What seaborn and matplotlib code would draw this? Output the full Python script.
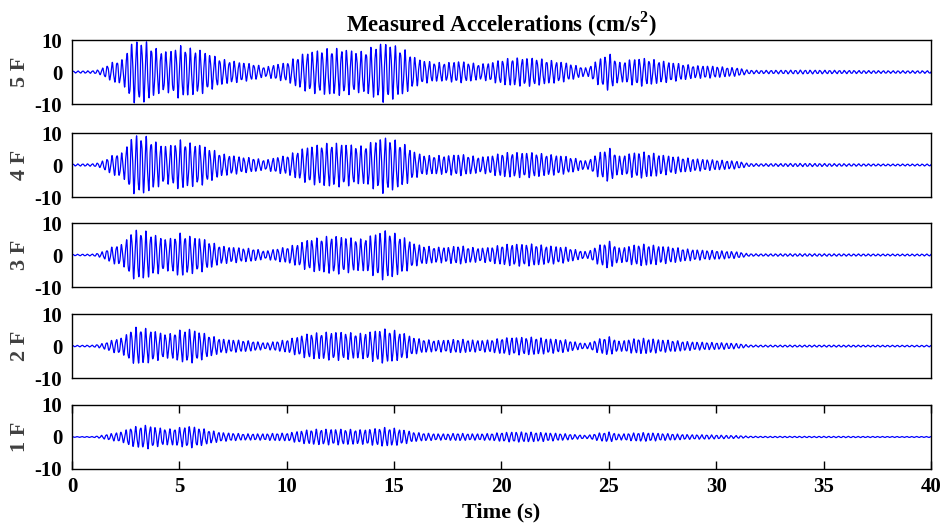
import numpy as np
import pandas as pd
import matplotlib
matplotlib.use("Agg")
import matplotlib.pyplot as plt
import seaborn as sns

# Envelope knots (s) and peak amplitudes (cm/s^2)
knots = [0, 1, 1.3, 1.6, 2, 2.4, 2.7, 3, 3.5, 4, 4.5, 5, 5.5, 6, 6.5, 7, 7.5, 8, 8.5, 9,
         9.5, 10, 10.5, 11, 11.5, 12, 12.5, 13, 13.5, 14, 14.5, 15, 15.5, 16, 16.5, 17,
         17.5, 18, 18.5, 19, 19.5, 20, 20.5, 21, 21.5, 22, 22.5, 23, 23.5, 24, 24.5, 25,
         25.5, 26, 26.5, 27, 27.5, 28, 28.5, 29, 29.5, 30, 30.5, 31, 31.5, 32, 34, 36, 38, 40]

env_5F = [0.3, 0.4, 0.8, 2.0, 3.5, 4.0, 9.0, 10.0, 9.5, 7.0, 6.5, 8.5, 7.5, 7.0, 5.5, 4.0,
          3.5, 3.0, 2.5, 1.5, 2.5, 3.0, 5.0, 6.5, 7.0, 7.5, 7.5, 7.0, 6.5, 8.0, 9.5, 8.5,
          7.0, 4.5, 3.5, 3.0, 3.0, 3.5, 3.0, 2.5, 3.0, 4.0, 4.5, 4.5, 4.5, 4.0, 3.5, 3.0,
          2.0, 1.2, 4.0, 6.0, 3.0, 4.0, 4.5, 4.0, 3.5, 3.0, 2.5, 2.0, 2.0, 1.8, 1.5, 1.3,
          0.6, 0.5, 0.6, 0.5, 0.4, 0.4]
env_4F = [0.3, 0.4, 0.8, 2.0, 3.5, 4.0, 8.5, 9.5, 9.0, 7.0, 6.0, 8.0, 7.0, 6.5, 5.0, 3.5,
          3.0, 2.5, 2.2, 1.5, 2.5, 3.0, 4.5, 6.0, 6.5, 7.0, 7.0, 6.5, 6.0, 7.5, 9.0, 8.0,
          6.5, 4.0, 3.0, 3.0, 3.0, 3.5, 3.0, 2.5, 3.0, 3.8, 4.0, 4.0, 4.0, 3.5, 3.2, 2.8,
          2.0, 1.2, 3.8, 5.5, 2.8, 3.8, 4.2, 3.8, 3.2, 2.8, 2.3, 2.0, 1.8, 1.6, 1.4, 1.2,
          0.5, 0.4, 0.5, 0.4, 0.3, 0.3]
env_3F = [0.2, 0.3, 0.7, 1.6, 3.0, 3.5, 7.0, 8.0, 7.5, 6.0, 5.0, 7.0, 6.0, 5.5, 4.0, 2.8,
          2.5, 2.2, 2.0, 1.2, 2.0, 2.5, 3.5, 5.0, 5.5, 6.0, 6.0, 5.5, 5.0, 6.5, 8.0, 7.0,
          5.5, 3.5, 2.8, 2.5, 2.5, 3.0, 2.5, 2.2, 2.5, 3.2, 3.5, 3.5, 3.5, 3.0, 2.8, 2.5,
          1.6, 1.0, 3.0, 4.5, 2.2, 3.0, 3.5, 3.2, 2.8, 2.5, 2.0, 1.7, 1.5, 1.4, 1.2, 1.0,
          0.4, 0.35, 0.4, 0.35, 0.3, 0.3]
env_2F = [0.2, 0.3, 0.6, 1.2, 2.2, 2.8, 5.0, 6.0, 5.5, 4.5, 3.8, 5.0, 5.5, 4.5, 3.2, 2.2,
          2.0, 1.8, 1.5, 1.0, 1.5, 2.0, 3.0, 4.0, 4.2, 4.5, 4.5, 4.2, 4.0, 4.8, 5.5, 5.0,
          4.0, 2.5, 2.0, 1.8, 2.0, 2.2, 2.0, 1.8, 2.0, 2.5, 2.8, 2.8, 2.8, 2.5, 2.2, 2.0,
          1.2, 0.8, 2.2, 3.0, 1.5, 2.2, 2.5, 2.3, 2.0, 1.8, 1.5, 1.3, 1.2, 1.1, 1.0, 0.8,
          0.35, 0.3, 0.3, 0.3, 0.25, 0.25]
env_1F = [0.1, 0.15, 0.4, 0.8, 1.3, 1.8, 3.0, 3.3, 3.8, 3.0, 2.5, 3.0, 3.5, 2.8, 2.0, 1.4,
          1.2, 1.0, 1.0, 1.0, 1.2, 1.2, 1.8, 2.3, 2.5, 2.5, 2.5, 2.4, 2.3, 2.6, 3.0, 2.8,
          2.2, 1.4, 1.2, 1.0, 1.0, 1.2, 1.0, 1.0, 1.1, 1.4, 1.6, 1.6, 1.5, 1.4, 1.2, 1.0,
          0.7, 0.5, 1.2, 1.6, 0.9, 1.2, 1.4, 1.3, 1.1, 1.0, 0.8, 0.7, 0.7, 0.6, 0.5, 0.45,
          0.25, 0.2, 0.2, 0.2, 0.15, 0.15]

floors = ["5 F", "4 F", "3 F", "2 F", "1 F"]
envelopes = [env_5F, env_4F, env_3F, env_2F, env_1F]
carrier_hz = 4.4          # dominant response frequency read from the peak spacing
y_ticks = [-10, 0, 10]
x_ticks = [0, 5, 10, 15, 20, 25, 30, 35, 40]

t = np.arange(0, 40.0001, 0.01)

plt.rcParams['font.family'] = ['Liberation Serif', 'DejaVu Serif']
plt.rcParams['mathtext.fontset'] = 'custom'
plt.rcParams['mathtext.rm'] = 'Liberation Serif:bold'
plt.rcParams['mathtext.bf'] = 'Liberation Serif:bold'
fig = plt.figure(figsize=(9.46, 5.31), dpi=100)

left, width, height = 0.0761, 0.908, 0.1205
bottoms = [0.8041, 0.629, 0.4595, 0.288, 0.1168]

for i, (name, env) in enumerate(zip(floors, envelopes)):
    ax = fig.add_axes([left, bottoms[i], width, height])
    amp = np.interp(t, knots, env)
    sig = amp * (0.88 * np.sin(2 * np.pi * carrier_hz * t + 0.3 * i)
                 + 0.12 * np.sin(2 * np.pi * 11.3 * t + 1.1 * i))
    df = pd.DataFrame({"t": t, "a": sig})
    sns.lineplot(data=df, x="t", y="a", ax=ax, color="#0000ff", lw=0.9)
    ax.set_xlim(0, 40)
    ax.set_ylim(-10, 10)
    ax.set_yticks(y_ticks)
    ax.set_yticklabels([str(v) for v in y_ticks], fontsize=15, fontweight='bold')
    ax.tick_params(axis='y', length=0, pad=7)
    ax.set_ylabel(name, fontsize=16, fontweight='bold', color='#404040', labelpad=3)
    ax.set_xlabel("")
    for s in ax.spines.values():
        s.set_linewidth(1.0)
        s.set_color('black')
    if i < len(floors) - 1:
        ax.set_xticks([])
    else:
        ax.set_xticks(x_ticks)
        ax.set_xticklabels([str(v) for v in x_ticks], fontsize=15, fontweight='bold')
        ax.tick_params(axis='x', direction='in', length=6, top=True, width=1, pad=6)
        ax.set_xlabel("Time (s)", fontsize=16, fontweight='bold', labelpad=4)
    if i == 0:
        ax.set_title(r"Measured Accelerations (cm/s$^{\mathbf{2}}$)", fontsize=16.5,
                     fontweight='bold', pad=6)

fig.savefig("out.png", dpi=100)
